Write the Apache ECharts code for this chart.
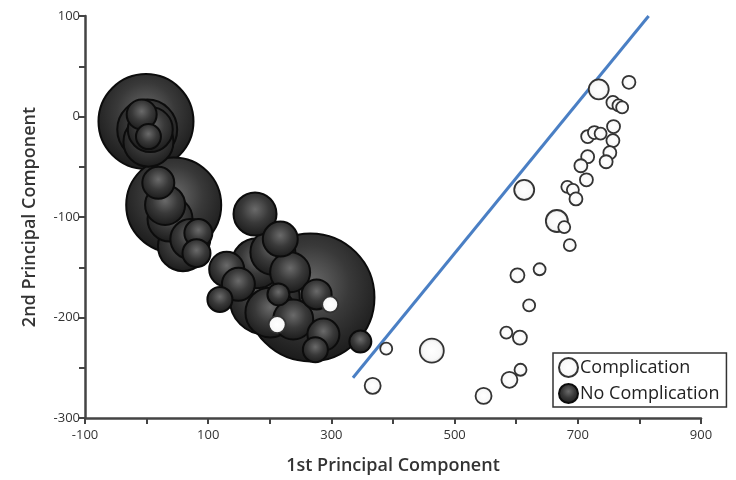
<!DOCTYPE html>
<html>
<head>
<meta charset="utf-8" />
<title>PCA bubble chart</title>
<script src="https://cdn.jsdelivr.net/npm/echarts@6/dist/echarts.min.js"></script>
<style>
  html, body { margin: 0; padding: 0; background: #fff; }
  #chartmain { width: 736px; height: 480px; }
</style>
</head>
<body>
<div id="chartmain"></div>
<script>
  // [1st PC, 2nd PC, bubble magnitude]
  var complication = [
    [734, 27, 20], [783, 34, 13], [757, 14, 13], [766, 11, 12], [772, 9, 12],
    [758, -10, 13], [716, -20, 13], [727, -16, 13], [737, -17, 12], [757, -24, 13],
    [752, -36, 13], [746, -45, 13], [716, -40, 13], [705, -49, 13], [714, -63, 13],
    [683, -70, 12], [692, -73, 12], [697, -82, 13], [613, -73, 20], [666, -104, 22],
    [678, -110, 12], [687, -128, 12], [602, -158, 14], [638, -152, 12], [621, -188, 12],
    [584, -215, 12], [606, -220, 14], [607, -252, 12], [589, -262, 16], [547, -278, 16],
    [463, -233, 24], [389, -231, 12], [367, -268, 16], [298, -187, 16], [212, -207, 17]
  ];

  var noComplication = [
    [-1, -5, 95], [1, -13, 60], [6, -13, 45], [3, -25, 50], [-8, 2, 30], [3, -20, 25],
    [44, -88, 95], [19, -66, 32], [30, -88, 40], [38, -102, 45],
    [84, -116, 28], [81, -136, 28], [71, -122, 40], [59, -129, 50],
    [176, -97, 43], [266, -180, 128],
    [149, -167, 33], [119, -182, 25], [214, -177, 22], [276, -177, 30],
    [287, -217, 32], [274, -232, 25], [347, -224, 22],
    [179, -146, 50], [205, -135, 45], [130, -152, 35], [233, -155, 40],
    [201, -195, 50], [192, -182, 70], [217, -122, 35], [238, -202, 40]
  ];

  var separator = [[335, -260], [815, 100]];

  var xLabels = [-100, 100, 300, 500, 700, 900];
  var yLabels = [-300, -200, -100, 0, 100];

  var BUBBLE_SCALE = 1;

  // big bubbles first so the small ones sit on top
  noComplication.sort(function (a, b) { return b[2] - a[2]; });

  var myChart = echarts.init(document.getElementById('chartmain'));
  var font = '"Open Sans", "Noto Sans", sans-serif';

  var option = {
    backgroundColor: '#fff',
    animation: false,
    grid: { left: 85, right: 35, top: 16, bottom: 62, containLabel: false },
    legend: {
      orient: 'vertical',
      left: 553,
      top: 353,
      data: ['Complication', 'No Complication'],
      icon: 'circle',
      itemWidth: 19,
      itemHeight: 19,
      itemGap: 5,
      padding: [4, 7, 3, 5],
      borderColor: '#333',
      borderWidth: 1.5,
      backgroundColor: '#fff',
      textStyle: { fontFamily: font, fontSize: 18, color: '#222', padding: [0, 0, 0, -3] }
    },
    xAxis: {
      type: 'value',
      min: -100,
      max: 900,
      interval: 100,
      name: '1st Principal Component',
      nameLocation: 'middle',
      nameGap: 39,
      nameTextStyle: { fontFamily: font, fontSize: 18, fontWeight: 600, color: '#333' },
      splitLine: { show: false },
      axisLine: { onZero: false, lineStyle: { color: '#444', width: 2.5 } },
      axisTick: { length: 6, lineStyle: { color: '#444', width: 2 } },
      axisLabel: {
        margin: 11,
        fontFamily: font, fontSize: 13, color: '#333',
        formatter: function (v) { return xLabels.indexOf(v) >= 0 ? String(v) : ''; }
      }
    },
    yAxis: {
      type: 'value',
      min: -300,
      max: 100,
      interval: 50,
      name: '2nd Principal Component',
      nameLocation: 'middle',
      nameGap: 46,
      nameTextStyle: { fontFamily: font, fontSize: 18, fontWeight: 600, color: '#333' },
      splitLine: { show: false },
      axisLine: { show: true, onZero: false, lineStyle: { color: '#444', width: 2.5 } },
      axisTick: { show: true, length: 6, lineStyle: { color: '#444', width: 2 } },
      axisLabel: {
        margin: 5,
        fontFamily: font, fontSize: 13, color: '#333',
        formatter: function (v) { return yLabels.indexOf(v) >= 0 ? String(v) : ''; }
      }
    },
    series: [
      {
        name: 'separator',
        type: 'line',
        data: separator,
        symbol: 'none',
        silent: true,
        z: 1,
        lineStyle: { color: '#4a7fc4', width: 3 }
      },
      {
        name: 'No Complication',
        type: 'scatter',
        data: noComplication,
        z: 2,
        symbolSize: function (v) { return v[2] * BUBBLE_SCALE; },
        itemStyle: {
          opacity: 1,
          color: {
            type: 'radial', x: 0.5, y: 0.4, r: 0.6,
            colorStops: [
              { offset: 0, color: '#6a6a6a' },
              { offset: 0.5, color: '#393939' },
              { offset: 1, color: '#1a1a1a' }
            ]
          },
          borderColor: '#0c0c0c',
          borderWidth: 2
        },
        emphasis: { disabled: true }
      },
      {
        name: 'Complication',
        type: 'scatter',
        data: complication,
        z: 3,
        symbolSize: function (v) { return v[2] * BUBBLE_SCALE; },
        itemStyle: {
          opacity: 1,
          color: {
            type: 'radial', x: 0.5, y: 0.5, r: 0.5,
            colorStops: [
              { offset: 0, color: '#ffffff' },
              { offset: 0.7, color: '#f8f8f8' },
              { offset: 1, color: '#d4d4d4' }
            ]
          },
          borderColor: '#333',
          borderWidth: 1.8
        },
        emphasis: { disabled: true }
      }
    ]
  };

  myChart.setOption(option);
</script>
</body>
</html>
